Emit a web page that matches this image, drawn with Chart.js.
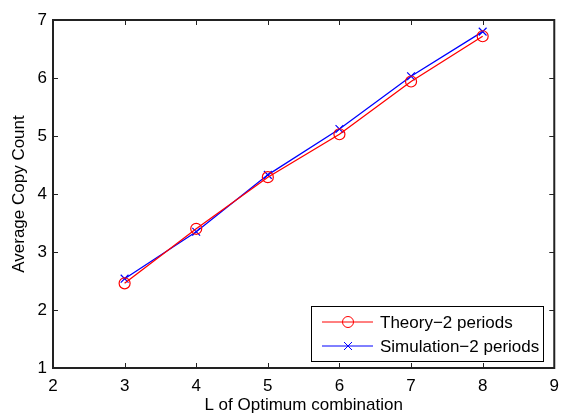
<!DOCTYPE html>
<html>
<head>
<meta charset="utf-8">
<script src="https://cdn.jsdelivr.net/npm/chart.js@4/dist/chart.umd.min.js"></script>
<style>
  html, body { margin: 0; padding: 0; background: #fff; }
  #wrap { width: 567px; height: 416px; }
</style>
</head>
<body>
<div id="wrap"><canvas id="chart" width="567" height="416"></canvas></div>
<script>
'use strict';

let canvasElem = document.getElementById('chart');

// data
const lValues = [3, 4, 5, 6, 7, 8];
const theoryCounts = [2.46, 3.40, 4.29, 5.03, 5.94, 6.72];
const simCounts = [2.54, 3.35, 4.33, 5.12, 6.03, 6.80];
const xTicks = [2, 3, 4, 5, 6, 7, 8, 9];
const yTicks = [1, 2, 3, 4, 5, 6, 7];
const seriesNames = ['Theory\u22122 periods', 'Simulation\u22122 periods'];

const FONT = 'Liberation Sans, Arial, Helvetica, sans-serif';

function toPoints(ys) {
  let pts = [];
  for (let i = 0; i < lValues.length; i++) {
    pts.push({ x: lValues[i], y: ys[i] });
  }
  return pts;
}

// matlab style box with inward ticks on all four sides
const boxAxes = {
  id: 'boxAxes',
  afterDraw(chart) {
    const ctx = chart.ctx;
    const a = chart.chartArea;
    const xs = chart.scales.x;
    const ys = chart.scales.y;
    ctx.save();
    ctx.strokeStyle = '#222';
    ctx.lineWidth = 1;
    const t = 5;
    ctx.beginPath();
    xTicks.forEach(v => {
      const px = Math.round(xs.getPixelForValue(v)) + 0.5;
      ctx.moveTo(px, a.bottom); ctx.lineTo(px, a.bottom - t);
      ctx.moveTo(px, a.top); ctx.lineTo(px, a.top + t);
    });
    yTicks.forEach(v => {
      const py = Math.round(ys.getPixelForValue(v)) + 0.5;
      ctx.moveTo(a.left, py); ctx.lineTo(a.left + t, py);
      ctx.moveTo(a.right, py); ctx.lineTo(a.right - t, py);
    });
    ctx.stroke();
    ctx.lineWidth = 2;
    ctx.strokeRect(a.left, a.top, a.right - a.left, a.bottom - a.top);

    // legend box in lower right
    const bx = 311, by = 306, bw = 232, bh = 55;
    ctx.fillStyle = '#fff';
    ctx.fillRect(bx, by, bw, bh);
    ctx.lineWidth = 1;
    ctx.strokeStyle = '#000';
    ctx.strokeRect(bx + 0.5, by + 0.5, bw, bh);
    ctx.font = '17px ' + FONT;
    ctx.textBaseline = 'middle';
    ctx.textAlign = 'left';
    chart.data.datasets.forEach((ds, i) => {
      const ly = by + 16 + i * 24;
      ctx.strokeStyle = ds.borderColor;
      ctx.lineWidth = 1;
      ctx.beginPath();
      ctx.moveTo(322, ly); ctx.lineTo(373, ly);
      ctx.stroke();
      ctx.beginPath();
      if (ds.pointStyle === 'circle') {
        ctx.arc(348, ly, 5.5, 0, Math.PI * 2);
      } else {
        ctx.moveTo(344, ly - 4); ctx.lineTo(352, ly + 4);
        ctx.moveTo(344, ly + 4); ctx.lineTo(352, ly - 4);
      }
      ctx.stroke();
      ctx.fillStyle = '#000';
      ctx.fillText(ds.label, 380, ly + 1);
    });
    ctx.restore();
  }
};

new Chart(canvasElem, {
  type: 'line',
  data: {
    datasets: [{
      label: seriesNames[0],
      data: toPoints(theoryCounts),
      borderColor: '#ff0000',
      backgroundColor: 'rgba(0,0,0,0)',
      borderWidth: 1.3,
      pointStyle: 'circle',
      pointRadius: 5.5,
      pointBorderWidth: 1.2,
      pointBorderColor: '#ff0000',
      pointBackgroundColor: 'rgba(0,0,0,0)',
      tension: 0
    },
    {
      label: seriesNames[1],
      data: toPoints(simCounts),
      borderColor: '#0000ff',
      backgroundColor: 'rgba(0,0,0,0)',
      borderWidth: 1.3,
      pointStyle: 'crossRot',
      pointRadius: 5.5,
      pointBorderWidth: 1.2,
      pointBorderColor: '#0000ff',
      tension: 0
    }]
  },
  options: {
    responsive: false,
    animation: false,
    layout: { padding: { left: 0, right: 12, top: 20, bottom: 0 } },
    plugins: {
      legend: { display: false },
      tooltip: { enabled: false }
    },
    scales: {
      x: {
        type: 'linear',
        min: 2,
        max: 9,
        afterBuildTicks: s => { s.ticks = xTicks.map(v => ({ value: v })); },
        afterFit: s => { s.height = 48; },
        grid: { display: false, drawTicks: false },
        border: { display: false },
        ticks: { color: '#000', padding: 8, font: { family: FONT, size: 17 } },
        title: {
          display: true,
          text: 'L of Optimum combination',
          color: '#000',
          padding: { top: 0, bottom: 0 },
          font: { family: FONT, size: 17 }
        }
      },
      y: {
        type: 'linear',
        min: 1,
        max: 7,
        afterBuildTicks: s => { s.ticks = yTicks.map(v => ({ value: v })); },
        afterFit: s => { s.width = 53; },
        grid: { display: false, drawTicks: false },
        border: { display: false },
        ticks: { color: '#000', padding: 6, font: { family: FONT, size: 17 } },
        title: {
          display: true,
          text: 'Average Copy Count',
          color: '#000',
          padding: { top: 9, bottom: 0 },
          font: { family: FONT, size: 17 }
        }
      }
    }
  },
  plugins: [boxAxes]
});
</script>
</body>
</html>
